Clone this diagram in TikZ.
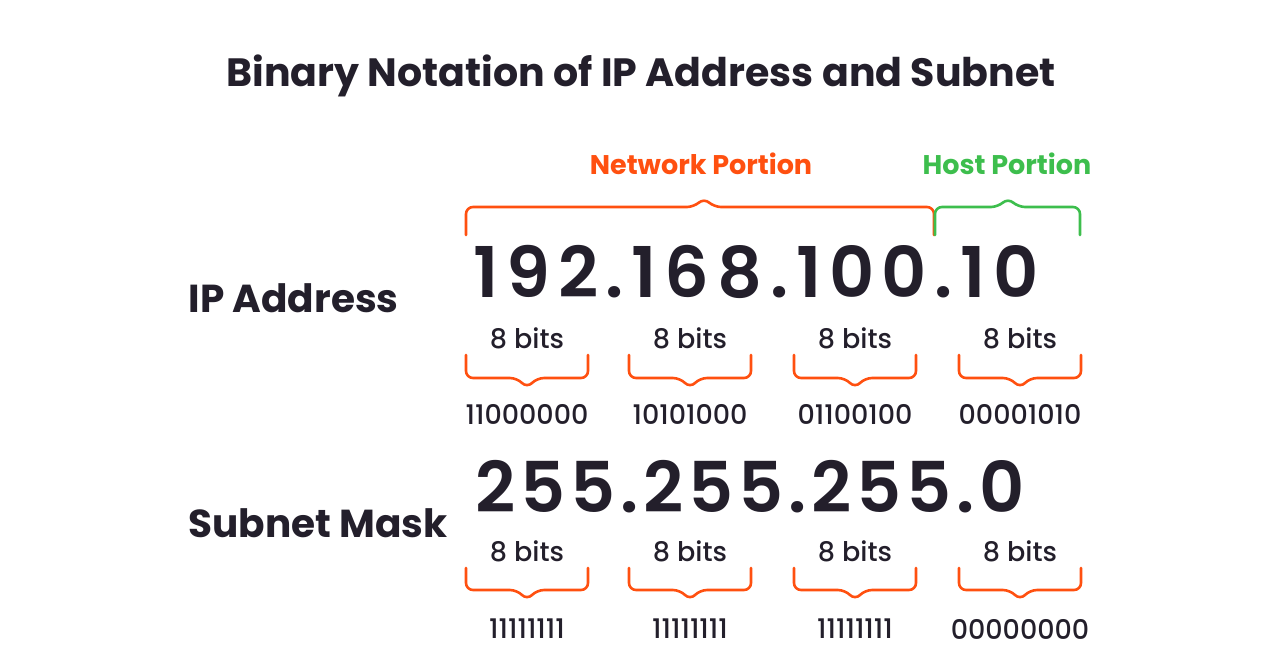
\documentclass[tikz,border=0pt]{standalone}
\usepackage{fontspec}
\setmainfont{Poppins}
\newfontfamily\pbold{Poppins}[UprightFont=* Bold]
\newfontfamily\psemi{Poppins}[UprightFont=* SemiBold]
\newfontfamily\pmed{Poppins}[UprightFont=* Medium]
\newfontfamily\pbigA{Poppins}[UprightFont=* SemiBold, LetterSpace=11]
\newfontfamily\pbigB{Poppins}[UprightFont=* SemiBold, LetterSpace=7]
\definecolor{ink}{HTML}{231F2B}
\definecolor{orng}{HTML}{FF5010}
\definecolor{grn}{HTML}{3DBE4D}
\begin{document}
\begin{tikzpicture}[x=1pt,y=-1pt,
  title/.style={font=\pbold\fontsize{39.5}{42}\selectfont, text=ink},
  rowlabel/.style={font=\pbold\fontsize{39}{40}\selectfont, text=ink, anchor=west},
  bits/.style={font=\pmed\fontsize{27}{30}\selectfont, text=ink},
  bin/.style={font=\pmed\fontsize{27}{30}\selectfont, text=ink},
  portion/.style={font=\pbold\fontsize{27}{30}\selectfont},
  brace/.style={line width=2.6pt, rounded corners=7pt, line cap=round}]
\useasboundingbox (0,0) rectangle (1280,672);
\node[title] (t) at (641,76) {Binary Notation of IP Address and Subnet};
\node[portion, text=orng] (np) at (701,164) {Network Portion};
\node[portion, text=grn] (hp) at (1007,164) {Host Portion};
\draw[brace, orng] (466,235) -- (466,207) -- (694,207) -- (704,198) -- (714,207) -- (934,207) -- (934,235);
\draw[brace, grn] (935,235) -- (935,207) -- (998,207) -- (1008,198) -- (1018,207) -- (1080,207) -- (1080,235);
\node[rowlabel] (ipl) at (185,298) {IP Address};
\node[rowlabel] (sml) at (185,523) {Subnet Mask};
\node[font=\pbigA\fontsize{70}{74}\selectfont, text=ink, anchor=west] (ip) at (470,272) {192.168.100.10};
\node[font=\pbigB\fontsize{70}{74}\selectfont, text=ink, anchor=west] (sm) at (472,487) {255.255.255.0};
\foreach \cx/\a/\b [count=\i] in {527/11000000/11111111, 690/10101000/11111111, 855/01100100/11111111, 1020/00001010/00000000}{
  \node[bits] (ba\i) at (\cx,338) {8 bits};
  \draw[brace, orng] (\cx-61,355) -- (\cx-61,378) -- (\cx-10,378) -- (\cx,388) -- (\cx+10,378) -- (\cx+61,378) -- (\cx+61,355);
  \node[bin] (na\i) at (\cx,414) {\a};
  \node[bits] (bb\i) at (\cx,551) {8 bits};
  \draw[brace, orng] (\cx-61,568) -- (\cx-61,590) -- (\cx-10,590) -- (\cx,600) -- (\cx+10,590) -- (\cx+61,590) -- (\cx+61,568);
  \node[bin] (nb\i) at (\cx,629) {\b};
}
\end{tikzpicture}
\end{document}
